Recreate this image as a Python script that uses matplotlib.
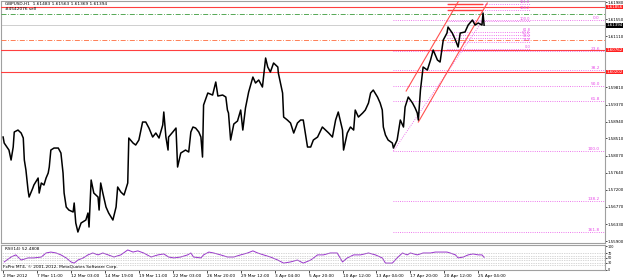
import matplotlib
matplotlib.use("Agg")
import matplotlib.pyplot as plt

symbol_info = "GBPUSD,H1  1.61483 1.61563 1.61369 1.61394"
order_info = "#4542076 sell"
rsi_info = "RSI(14) 52.4808"
copyright_info = "FxPro MT4, \u00a9 2001-2012, MetaQuotes Software Corp."

# hourly bar index (64 bars between time labels) and price
bars = [0, 2, 11, 15, 19, 21, 28, 34, 38, 40, 43, 47, 49, 56, 58, 66, 68, 72, 77, 81,
        85, 87, 90, 96, 104, 109, 113, 115, 119, 124, 132, 134, 137, 141, 147, 156, 160, 162, 166, 171,
        179, 181, 184, 188, 194, 199, 207, 213, 216, 222, 228, 235, 237, 245, 250, 256, 263, 269, 275, 282,
        288, 294, 301, 303, 307, 311, 312, 320, 326, 329, 335, 344, 350, 354, 358, 363, 369, 373, 376, 378,
        386, 395, 401, 405, 414, 420, 423, 425, 429, 435, 442, 448, 452, 457, 463, 471, 476, 482, 489, 495,
        499, 504, 510, 518, 519, 527, 529, 536, 542, 548, 555, 561, 566, 574, 580, 585, 593, 602, 608, 614,
        621, 627, 632, 640, 642, 649, 655, 661, 664, 670, 678, 683, 689, 693, 698, 706, 711, 715, 717, 721,
        726, 734, 736, 743, 749, 755, 758, 764, 772, 777, 781, 783, 787, 792, 800, 806, 811, 819, 824, 830,
        837, 839, 847, 853, 858, 862, 871, 877, 885, 890, 896, 903, 905, 907]
closes = [1.58547, 1.58395, 1.58216, 1.57962, 1.58293, 1.58675, 1.58725, 1.58649, 1.58522, 1.57962,
          1.57707, 1.57198, 1.57020, 1.57249, 1.57326, 1.57504, 1.57122, 1.57377, 1.57326, 1.57504,
          1.57631, 1.57784, 1.58216, 1.58267, 1.58267, 1.58140, 1.57631, 1.57122, 1.56766, 1.56689,
          1.56639, 1.56868, 1.56359, 1.56130, 1.56359, 1.56435, 1.56613, 1.56257, 1.57453, 1.57122,
          1.57020, 1.56689, 1.57377, 1.57122, 1.56766, 1.56613, 1.56435, 1.56766, 1.57275, 1.57148,
          1.57071, 1.57377, 1.58522, 1.58395, 1.58344, 1.58471, 1.58929, 1.58929, 1.58776, 1.58547,
          1.58649, 1.58522, 1.58853, 1.59184, 1.58547, 1.58216, 1.58547, 1.58675, 1.58776, 1.57784,
          1.58140, 1.58216, 1.58166, 1.58675, 1.58802, 1.58776, 1.58675, 1.58547, 1.58038, 1.59362,
          1.59667, 1.59616, 1.59947, 1.59591, 1.59616, 1.59565, 1.59234, 1.59158, 1.58471, 1.58878,
          1.58955, 1.59234, 1.58725, 1.59285, 1.59692, 1.60074, 1.59922, 1.59998, 1.59820, 1.60558,
          1.60329, 1.60202, 1.60431, 1.60329, 1.60176, 1.59667, 1.59056, 1.58980, 1.58904, 1.58649,
          1.58904, 1.58980, 1.58980, 1.58293, 1.58293, 1.58471, 1.58547, 1.58802, 1.58725, 1.58649,
          1.58547, 1.58980, 1.59184, 1.58725, 1.58216, 1.58649, 1.58802, 1.58725, 1.59234, 1.59056,
          1.59158, 1.59234, 1.59413, 1.59667, 1.59743, 1.59565, 1.59413, 1.59234, 1.58802, 1.58598,
          1.58471, 1.58395, 1.58267, 1.58471, 1.58980, 1.58802, 1.59311, 1.59565, 1.59413, 1.59285,
          1.59158, 1.58980, 1.59743, 1.60329, 1.60252, 1.60507, 1.60761, 1.60507, 1.60456, 1.61016,
          1.61194, 1.61347, 1.61194, 1.61016, 1.60838, 1.61194, 1.61220, 1.61398, 1.61525, 1.61398,
          1.61449, 1.61398, 1.61703, 1.61394]

rsi_bars = [2, 15, 24, 34, 47, 58, 72, 81, 90, 100, 109, 119, 128, 134, 141, 151, 160, 169, 179, 188,
            198, 209, 222, 235, 245, 254, 265, 279, 292, 303, 312, 322, 335, 348, 354, 359, 373, 378, 388, 397,
            410, 423, 435, 448, 461, 471, 480, 491, 504, 518, 529, 542, 555, 566, 580, 593, 604, 617, 630, 640,
            649, 661, 674, 689, 702, 715, 721, 734, 743, 753, 762, 768, 781, 792, 806, 815, 824, 837, 843, 853,
            858, 868, 877, 886, 896, 903, 907]
rsi_vals = [33, 54, 63, 41, 50, 50, 54, 71, 75, 71, 63, 50, 33, 28, 41, 50, 63, 71, 63, 71,
            63, 54, 63, 84, 75, 80, 71, 54, 63, 67, 54, 50, 54, 63, 71, 54, 50, 63, 75, 71,
            63, 54, 54, 63, 71, 80, 71, 63, 54, 41, 28, 33, 41, 28, 41, 63, 63, 71, 71, 33,
            50, 63, 63, 71, 63, 50, 28, 28, 50, 71, 63, 71, 63, 71, 71, 75, 75, 75, 71, 63,
            50, 54, 63, 67, 63, 63, 52.5]
rsi_levels = [70, 60, 50, 40, 30, 20]
rsi_labelled = [100, 70, 50, 30, 0]

time_labels = ["2 Mar 2012", "7 Mar 11:00", "12 Mar 03:00", "14 Mar 19:00", "19 Mar 11:00",
               "22 Mar 03:00", "26 Mar 20:00", "29 Mar 12:00", "3 Apr 04:00", "5 Apr 20:00",
               "10 Apr 12:00", "13 Apr 04:00", "17 Apr 20:00", "20 Apr 12:00", "25 Apr 04:00"]
price_ticks = [1.55900, 1.56330, 1.56770, 1.57200, 1.57640, 1.58070, 1.58510, 1.58940, 1.59370,
               1.59810, 1.61110, 1.61550, 1.61980]

red_levels = [1.61856, 1.60762, 1.60202]
tp_level = 1.61678
open_level = 1.61016
bid = 1.61394

fib_levels = [0.0, 23.6, 38.2, 50.0, 61.8, 100.0, 138.2, 161.8]
fib1_high, fib1_low = 1.61525, 1.58191
fib1_start, fib1_end = 736, 905
fib2_low, fib2_high = 1.60787, 1.61500
fib2_start, fib2_end = 837, 994

channel_upper_x, channel_upper_y = [760, 860], [1.59718, 1.62034]
channel_lower_x, channel_lower_y = [783, 913], [1.58929, 1.61958]

FS = 3.1
FS_AX = 2.85
XMAX = 1135
grey = "#a0a0a0"
fibc = "#e84ce8"

fig = plt.figure(figsize=(6.25, 2.8), dpi=100)
ax = fig.add_axes([0.0016, 0.1321, 0.9664, 0.8643])
ar = fig.add_axes([0.0016, 0.0357, 0.9664, 0.0893])

# main chart
ax.plot(bars, closes, color="black", lw=1.1, zorder=5)
for lv in red_levels:
    ax.axhline(lv, color="#ff4040", lw=0.8, zorder=3)
ax.axhline(tp_level, color="#3a9a3a", lw=0.6, dashes=(6, 2, 1, 2), zorder=3)
ax.axhline(open_level, color="#ff6a3a", lw=0.6, dashes=(6, 2, 1, 2), zorder=3)
ax.axhline(bid, color="#c8c8c8", lw=0.6, zorder=2)

for lv in fib_levels:
    p1 = fib1_high - lv / 100 * (fib1_high - fib1_low)
    ax.plot([fib1_start, XMAX], [p1, p1], color=fibc, lw=0.6, ls=":", zorder=4)
    ax.text(XMAX - 10, p1, "%.1f" % lv, color=fibc, fontsize=FS, ha="right", va="bottom")
    p2 = fib2_low + lv / 100 * (fib2_high - fib2_low)
    ax.plot([fib2_start, fib2_end], [p2, p2], color=fibc, lw=0.6, ls=":", zorder=4)
    ax.text(fib2_end, p2, "%.1f" % lv, color=fibc, fontsize=2.6, ha="right", va="bottom")
for lv in [138.2, 161.8]:
    p2 = fib2_low + lv / 100 * (fib2_high - fib2_low)
    ax.plot([839, 903], [p2, p2], color="#ff4040", lw=1.0, zorder=4)
ax.plot([fib1_start, fib1_end], [fib1_low, fib1_high], color=fibc, lw=0.6, ls=":", zorder=4)

ax.plot(channel_upper_x, channel_upper_y, color="#ff5050", lw=0.8, zorder=4)
ax.plot(channel_lower_x, channel_lower_y, color="#ff5050", lw=0.8, zorder=4)

ax.set_xlim(-4, XMAX)
ax.set_ylim(1.55850, 1.62009)
ax.set_xticks([])
ax.yaxis.tick_right()
ax.set_yticks(price_ticks)
ax.set_yticklabels(["%.5f" % p for p in price_ticks])
ax.tick_params(axis="y", labelsize=FS_AX, length=1.5, pad=0.6, color="black", width=0.5)

for lv, fc in [(red_levels[0], "#ff2020"), (red_levels[1], "#ff2020"),
               (red_levels[2], "#ff2020"), (bid, "black")]:
    ax.text(1.003, lv, "%.5f" % lv, transform=ax.get_yaxis_transform(), fontsize=FS_AX,
            color="white", va="center", ha="left",
            bbox=dict(boxstyle="square,pad=0.1", fc=fc, ec="none"), clip_on=False)

ax.text(0.006, 0.997, symbol_info, transform=ax.transAxes, fontsize=FS, va="top", ha="left")
ax.text(0.006, 0.975, order_info, transform=ax.transAxes, fontsize=FS, va="top", ha="left")

# RSI panel
ar.plot(rsi_bars, rsi_vals, color="#9933cc", lw=0.7)
for lv in rsi_levels:
    ar.axhline(lv, color="#b0b0b0", lw=0.5, ls=(0, (1, 1.5)))
ar.set_xlim(-4, XMAX)
ar.set_ylim(-1.3, 105)
ar.yaxis.tick_right()
ar.set_yticks(rsi_labelled)
ar.set_yticklabels([str(v) for v in rsi_labelled])
ar.tick_params(axis="y", labelsize=2.4, length=1.5, pad=0.6, width=0.5)
ar.set_xticks([64 * i for i in range(len(time_labels))])
ar.set_xticklabels(time_labels)
for t in ar.get_xticklabels():
    t.set_ha("left")
ar.tick_params(axis="x", labelsize=FS, length=2, pad=1, width=0.5)
ar.text(0.006, 0.93, rsi_info, transform=ar.transAxes, fontsize=FS, va="top", ha="left")
ar.text(0.003, 0.04, copyright_info, transform=ar.transAxes, fontsize=FS, va="bottom", ha="left")

for a in (ax, ar):
    for s in a.spines.values():
        s.set_color(grey)
        s.set_linewidth(0.8)

fig.savefig("out.png", dpi=100, facecolor="white")
